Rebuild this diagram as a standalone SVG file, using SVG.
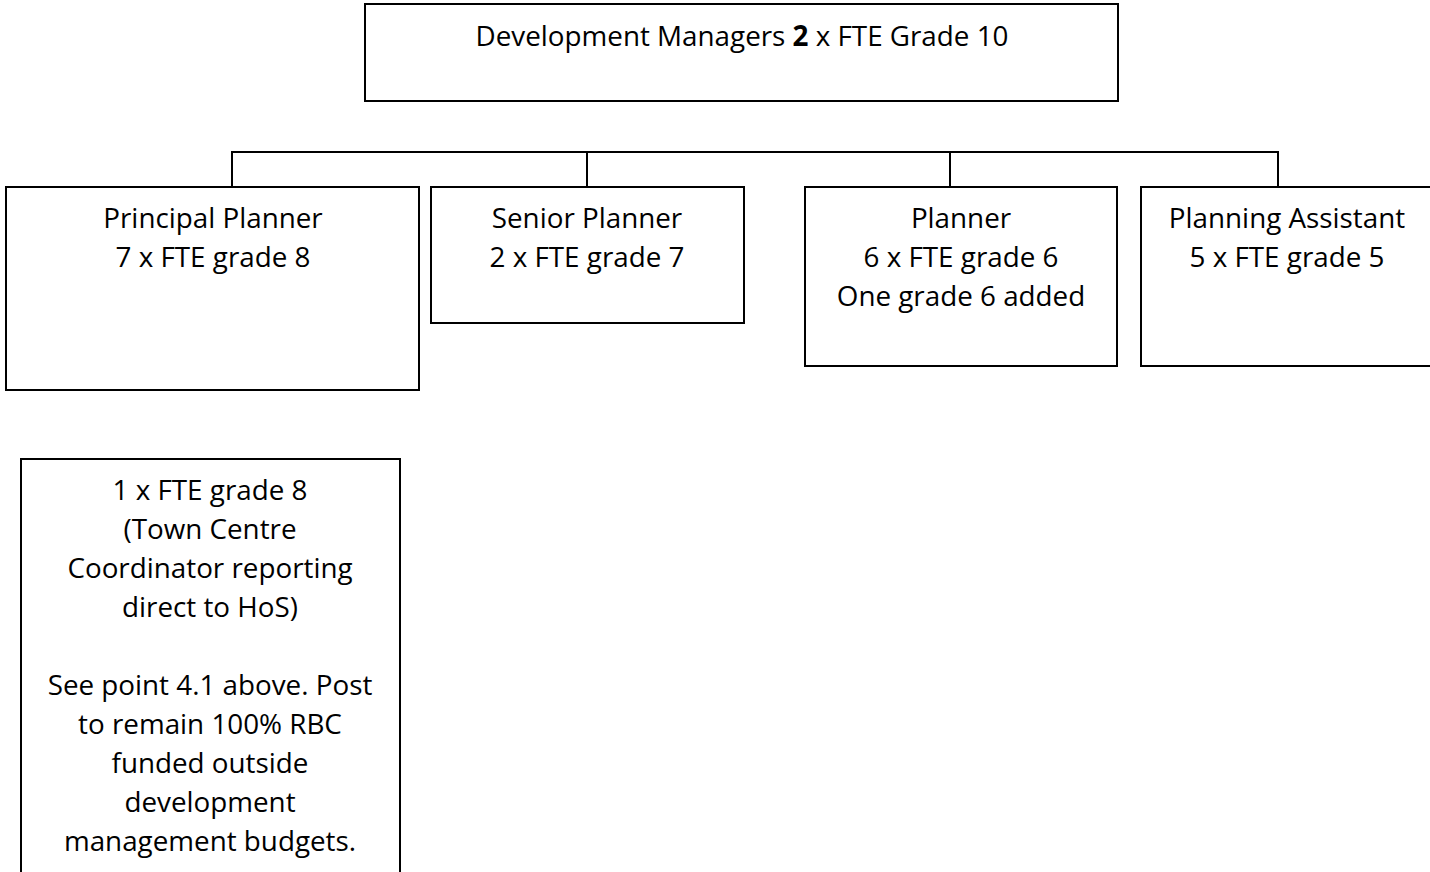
<svg xmlns="http://www.w3.org/2000/svg" width="1430" height="872" viewBox="0 0 1430 872">
<style>
.box{fill:#fff;stroke:#000;stroke-width:2}
.conn{fill:none;stroke:#000;stroke-width:2}
text{font-family:"Open Sans","Liberation Sans",sans-serif;font-size:27.8px;fill:#000;text-anchor:middle}
</style>
<rect width="1430" height="872" fill="#fff"/>
<g id="connectors">
<path class="conn" d="M232 187V152H1278V187M587 152V187M950 152V187"/>
</g>
<g id="dev-managers">
<rect class="box" x="365" y="4" width="753" height="97"/>
<text x="742" y="46">Development Managers <tspan font-weight="bold">2</tspan> x FTE Grade 10</text>
</g>
<g id="principal-planner">
<rect class="box" x="6" y="187" width="413" height="203"/>
<text x="213" y="228">Principal Planner</text>
<text x="213" y="267">7 x FTE grade 8</text>
</g>
<g id="senior-planner">
<rect class="box" x="431" y="187" width="313" height="136"/>
<text x="587" y="228">Senior Planner</text>
<text x="587" y="267">2 x FTE grade 7</text>
</g>
<g id="planner">
<rect class="box" x="805" y="187" width="312" height="179"/>
<text x="961" y="228">Planner</text>
<text x="961" y="267">6 x FTE grade 6</text>
<text x="961" y="306">One grade 6 added</text>
</g>
<g id="planning-assistant">
<rect class="box" x="1141" y="187" width="300" height="179"/>
<text x="1287" y="228">Planning Assistant</text>
<text x="1287" y="267">5 x FTE grade 5</text>
</g>
<g id="town-centre">
<rect class="box" x="21" y="459" width="379" height="430"/>
<text x="210" y="500">1 x FTE grade 8</text>
<text x="210" y="539">(Town Centre</text>
<text x="210" y="578">Coordinator reporting</text>
<text x="210" y="617">direct to HoS)</text>
<text x="210" y="695">See point 4.1 above. Post</text>
<text x="210" y="734">to remain 100% RBC</text>
<text x="210" y="773">funded outside</text>
<text x="210" y="812">development</text>
<text x="210" y="851">management budgets.</text>
</g>
</svg>
